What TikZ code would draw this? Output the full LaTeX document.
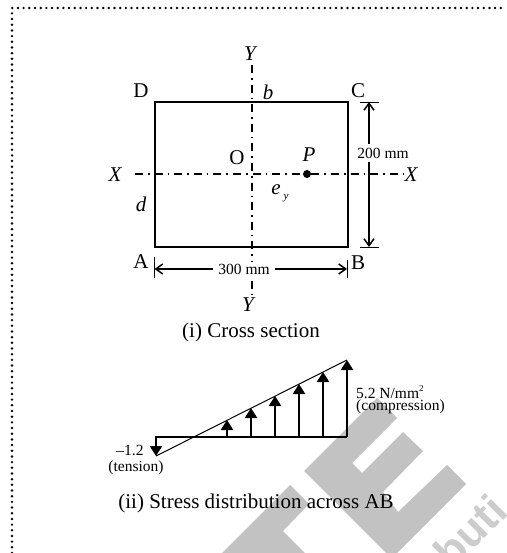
\documentclass[tikz,border=0pt]{standalone}
\usepackage{fontspec}
\setmainfont{Liberation Serif}
\newfontfamily\wmfont{Liberation Sans}
\usetikzlibrary{arrows.meta}
\tikzset{
  big/.style={font=\fontsize{21}{23}\selectfont,inner sep=0pt},
  bigit/.style={font=\fontsize{21}{23}\selectfont\itshape,inner sep=0pt},
  small/.style={font=\fontsize{15.5}{17}\selectfont,inner sep=0pt},
  axisline/.style={line width=1.4pt,dash pattern=on 8pt off 5pt on 1.6pt off 5pt},
  section/.style={line width=2.5pt},
  dim/.style={line width=2.1pt,-{Straight Barb[length=7pt,width=10pt,line width=1.5pt]}},
  ticks/.style={line width=0.9pt},
  stress/.style={line width=2.6pt,-{Triangle[length=10pt,width=12pt]}},
  border/.style={line width=2.7pt,line cap=round,dash pattern=on 0pt off 5.68pt},
  wm/.style={fill=wmgray,draw=none}
}
\definecolor{wmgray}{HTML}{C2C2C2}
\definecolor{wmtextgray}{HTML}{CCCCCC}
\begin{document}
\begin{tikzpicture}[x=1pt,y=-1pt]
\useasboundingbox (0,0) rectangle (506,553);
\clip (0,0) rectangle (506,553);
% watermark
\fill[wm] (377,398) -- (397,418) -- (352,463) -- (362,473) -- (403,432) -- (423,451) -- (383,492) -- (398,512) -- (447,465) -- (466,484) -- (397,553) -- (386,553) -- (304,471) -- cycle;
\fill[wm] (290,485) -- (309,504) -- (283,531) -- (305,553) -- (222,553) -- cycle;
\node[rotate=45,text=wmtextgray,inner sep=0pt,font=\wmfont\fontsize{44}{44}\selectfont\bfseries] (wmtext) at (470,531) {buti};
% dotted border
\coordinate (bl) at (12,553);
\coordinate (tl) at (12,8);
\coordinate (tr) at (506,8);
\draw[border] (bl) -- (tl) -- (tr);
% section
\coordinate (A) at (155,247);
\coordinate (B) at (348,247);
\coordinate (C) at (348,102);
\coordinate (D) at (155,102);
\coordinate (xl) at (135,174);
\coordinate (xr) at (404,174);
\coordinate (yt) at (252,65);
\coordinate (yb) at (252,294);
\draw[axisline] (xl) -- (xr);
\draw[axisline] (yt) -- (yb);
\draw[section] (A) -- (B) -- (C) -- (D) -- cycle;
\node[circle,fill=black,inner sep=0pt,minimum size=8pt] (Pdot) at (307,174) {};
\node[bigit] (Yt) at (250,54) {Y};
\node[bigit] (Yb) at (248,305) {Y};
\node[bigit] (Xl) at (115,175) {X};
\node[bigit] (Xr) at (411,175) {X};
\node[big] (Dl) at (141,91) {D};
\node[big] (Cl) at (358,91) {C};
\node[big] (Al) at (141,262) {A};
\node[big] (Bl) at (358,263) {B};
\node[bigit] (bl2) at (268,92) {b};
\node[bigit] (dl) at (141,204) {d};
\node[big] (Ol) at (237,158) {O};
\node[bigit] (Pl) at (309,155) {P};
\node[bigit] (eyl) at (276,190) {e};
\node[font=\fontsize{11}{12}\selectfont\itshape,inner sep=0pt] (eys) at (286,198) {y};
% 200 mm dimension
\coordinate (vt) at (369,102);
\coordinate (vb) at (369,247);
\coordinate (vtl) at (360,102);
\coordinate (vtr) at (379,102);
\coordinate (vbl) at (360,247);
\coordinate (vbr) at (379,247);
\draw[ticks] (vtl) -- (vtr);
\draw[ticks] (vbl) -- (vbr);
\node[small,fill=white,inner xsep=1pt,inner ysep=4pt] (l200) at (383,153) {200 mm};
\draw[dim] (l200.north -| vt) -- (vt);
\draw[dim] (l200.south -| vb) -- (vb);
% 300 mm dimension
\coordinate (hl) at (154.5,269);
\coordinate (hr) at (347,269);
\coordinate (hlt) at (154,257);
\coordinate (hlb) at (154,278);
\coordinate (hrt) at (347,260);
\coordinate (hrb) at (347,278);
\draw[ticks] (hlt) -- (hlb);
\draw[ticks] (hrt) -- (hrb);
\node[small,fill=white,inner xsep=5pt,inner ysep=2pt] (l300) at (244,269) {300 mm};
\draw[dim] (l300.west) -- (hl);
\draw[dim] (l300.east) -- (hr);
\node[big] (cap1) at (251,332) {(i) Cross section};
% stress diagram
\coordinate (s0) at (155,437);
\coordinate (s1) at (227,437);
\coordinate (s2) at (251,437);
\coordinate (s3) at (275,437);
\coordinate (s4) at (299,437);
\coordinate (s5) at (323,437);
\coordinate (s6) at (347,437);
\coordinate (t0) at (156,456);
\coordinate (t1) at (227,420);
\coordinate (t2) at (251,408);
\coordinate (t3) at (275,396);
\coordinate (t4) at (299,384);
\coordinate (t5) at (323,372);
\coordinate (t6) at (347,360);
\draw[line width=1pt] (t0) -- (t6);
\draw[line width=2.6pt] (s6) -- (s0);
\draw[stress] (s0 -| t0) -- (t0);
\foreach \k in {1,...,6} \draw[stress] (s\k) -- (t\k);
\node[small] (lm12) at (130,450) {\char"2013 1.2};
\node[small] (ltens) at (136,468) {(tension)};
\node[small,anchor=west] (l52) at (356,392) {5.2 N/mm\raisebox{0.45em}{\fontsize{9}{9}\selectfont 2}};
\node[small,anchor=west] (lcomp) at (356,407) {(compression)};
\node[big] (cap2) at (256,503) {(ii) Stress distribution across AB};
\end{tikzpicture}
\end{document}
